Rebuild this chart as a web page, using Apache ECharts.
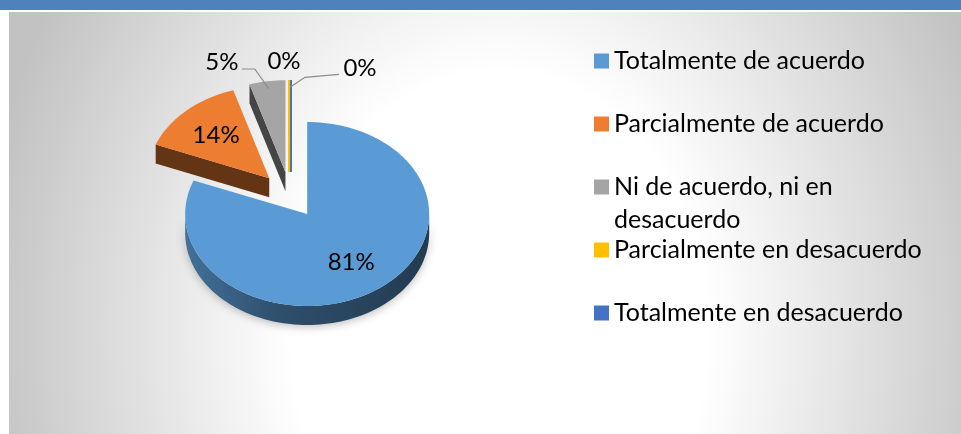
<!DOCTYPE html>
<html>
<head>
<meta charset="utf-8">
<script src="https://cdn.jsdelivr.net/npm/echarts@6/dist/echarts.min.js"></script>
<style>
  html, body { margin: 0; padding: 0; background: #fff; }
  #frame { position: relative; width: 961px; height: 434px; overflow: hidden; }
  #topbar { position: absolute; left: 0; top: 0; width: 961px; height: 10px; background: #4f81bd; }
  #panel {
    position: absolute; left: 9px; top: 12px; width: 952px; height: 422px;
    background: radial-gradient(ellipse 520px 650px at 490px 320px, #ffffff 0%, #ffffff 40%, #c2c2c2 100%);
  }
  #chart { position: absolute; left: 0; top: 0; width: 961px; height: 434px; }
</style>
</head>
<body>
<div id="frame">
  <div id="topbar"></div>
  <div id="panel"></div>
  <div id="chart"></div>
</div>
<script>
const categories = [
  "Totalmente de acuerdo",
  "Parcialmente de acuerdo",
  "Ni de acuerdo, ni en desacuerdo",
  "Parcialmente en desacuerdo",
  "Totalmente en desacuerdo"
];
const counts = [17, 3, 1, 0, 0];
const colors = ["#5b9bd5", "#ed7d31", "#a5a5a5", "#ffc000", "#4472c4"];

// pie drawn as a tilted (3D-looking) disc
const pie = { cx: 290, cy: 195, rx: 122, ry: 92, depth: 19, explode: 0.25 };
const legendCenters = [61, 124, 187, 250, 313];
const labelShift = { 2: [-40, 8], 3: [-6, 9], 4: [70, 16] };

const total = counts.reduce((a, b) => a + b, 0);
const starts = [];
let acc = 0;
counts.forEach(function (c) {
  starts.push(acc / total * 360);
  acc += c;
});

function shade(hex, f) {
  const n = parseInt(hex.slice(1), 16);
  const r = Math.round(((n >> 16) & 255) * f);
  const g = Math.round(((n >> 8) & 255) * f);
  const b = Math.round((n & 255) * f);
  return "rgb(" + r + "," + g + "," + b + ")";
}

const rad = function (d) { return d * Math.PI / 180; };

function renderSlice(i) {
  return function (params, api) {
    const a0 = starts[i];
    const a1 = a0 + api.value(0) / total * 360;
    const mid = (a0 + a1) / 2;
    const px = pie.cx + pie.explode * pie.rx * Math.sin(rad(mid));
    const py = pie.cy - pie.explode * pie.ry * Math.cos(rad(mid));
    const pt = function (a, r, dz) {
      return [px + pie.rx * r * Math.sin(rad(a)), py - pie.ry * r * Math.cos(rad(a)) + (dz || 0)];
    };
    const arc = function (from, to, dz) {
      const pts = [];
      const n = Math.max(1, Math.ceil((to - from) / 2));
      for (let k = 0; k <= n; k++) pts.push(pt(from + (to - from) * k / n, 1, dz));
      return pts;
    };
    const base = colors[i];
    const dark = shade(base, 0.42);
    const children = [];

    if (a1 > a0) {
      const w0 = Math.max(a0, 90), w1 = Math.min(a1, 270);
      if (w1 > w0) {
        const top = arc(w0, w1, 0);
        const bottom = arc(w0, w1, pie.depth).reverse();
        children.push({
          type: "polygon", z2: 1,
          shape: { points: top.concat(bottom) },
          style: {
            fill: {
              type: "linear", x: 0, y: 0, x2: 1, y2: 0,
              colorStops: [
                { offset: 0, color: shade(base, 0.72) },
                { offset: 0.4, color: shade(base, 0.5) },
                { offset: 1, color: shade(base, 0.38) }
              ]
            },
            shadowBlur: 8, shadowColor: "rgba(0,0,0,0.25)", shadowOffsetY: 2
          }
        });
      }
      [[a0, Math.sin(rad(a0)) < -1e-6], [a1, Math.sin(rad(a1)) > 1e-6]].forEach(function (f) {
        if (!f[1]) return;
        const o = pt(f[0], 1, 0);
        children.push({
          type: "polygon", z2: 1,
          shape: { points: [[px, py], o, [o[0], o[1] + pie.depth], [px, py + pie.depth]] },
          style: { fill: dark }
        });
      });
      children.push({
        type: "polygon", z2: 2,
        shape: { points: [[px, py]].concat(arc(a0, a1, 0)) },
        style: { fill: base }
      });
    } else {
      const off = (i - 3.5) * 2;
      const o = pt(a0, 1, 0);
      children.push({
        type: "line", z2: 2,
        shape: { x1: px + off, y1: py, x2: o[0] + off, y2: o[1] },
        style: { stroke: base, lineWidth: 2 }
      });
    }

    const pct = Math.round(api.value(0) / total * 100) + "%";
    let lp;
    if (api.value(0) / total >= 0.1) {
      lp = pt(mid, 0.64, 0);
    } else {
      const b = pt(mid, 1.3, 0);
      const s = labelShift[i] || [0, 0];
      lp = [b[0] + s[0], b[1] + s[1]];
      const e = pt(mid, 0.92, 0);
      const dist = Math.hypot(lp[0] - e[0], lp[1] - e[1]);
      if (dist > 45) {
        let pts;
        if (lp[0] < e[0]) {
          pts = [[lp[0] + 20, lp[1] + 7], [lp[0] + 33, lp[1] + 7], e];
        } else {
          pts = [[lp[0] - 21, lp[1] + 6], [e[0] + 15, e[1] - 10], e];
        }
        children.push({
          type: "polyline", z2: 3,
          shape: { points: pts },
          style: { stroke: "#8c8c8c", lineWidth: 1.2, fill: null }
        });
      }
    }
    children.push({
      type: "text", z2: 4,
      x: lp[0], y: lp[1],
      style: {
        text: pct, fill: "#000", fontFamily: "Lato", fontSize: 24,
        align: "center", verticalAlign: "middle"
      }
    });
    return { type: "group", children: children };
  };
}

const chart = echarts.init(document.getElementById("chart"));
chart.setOption({
  animation: false,
  backgroundColor: "transparent",
  legend: categories.map(function (name, i) {
    const wrapped = name.indexOf(", ni en ") >= 0;
    return {
      data: [name],
      orient: "vertical",
      left: 594,
      top: legendCenters[i] - (wrapped ? 49.5 : 16.5),
      padding: 0,
      icon: "rect",
      itemWidth: 15,
      itemHeight: 15,
      itemGap: 0,
      selectedMode: false,
      formatter: function (n) {
        return n.indexOf(", ni en ") >= 0 ? "\n" + n.replace(", ni en ", ", ni en\n") : n;
      },
      textStyle: { fontFamily: "Lato", fontSize: 25, color: "#000", lineHeight: 33 }
    };
  }),
  series: categories.map(function (name, i) {
    return {
      type: "custom",
      name: name,
      coordinateSystem: "none",
      itemStyle: { color: colors[i] },
      data: [counts[i]],
      renderItem: renderSlice(i)
    };
  })
});
window.addEventListener("resize", function () {
  chart.resize();
});
</script>
</body>
</html>
